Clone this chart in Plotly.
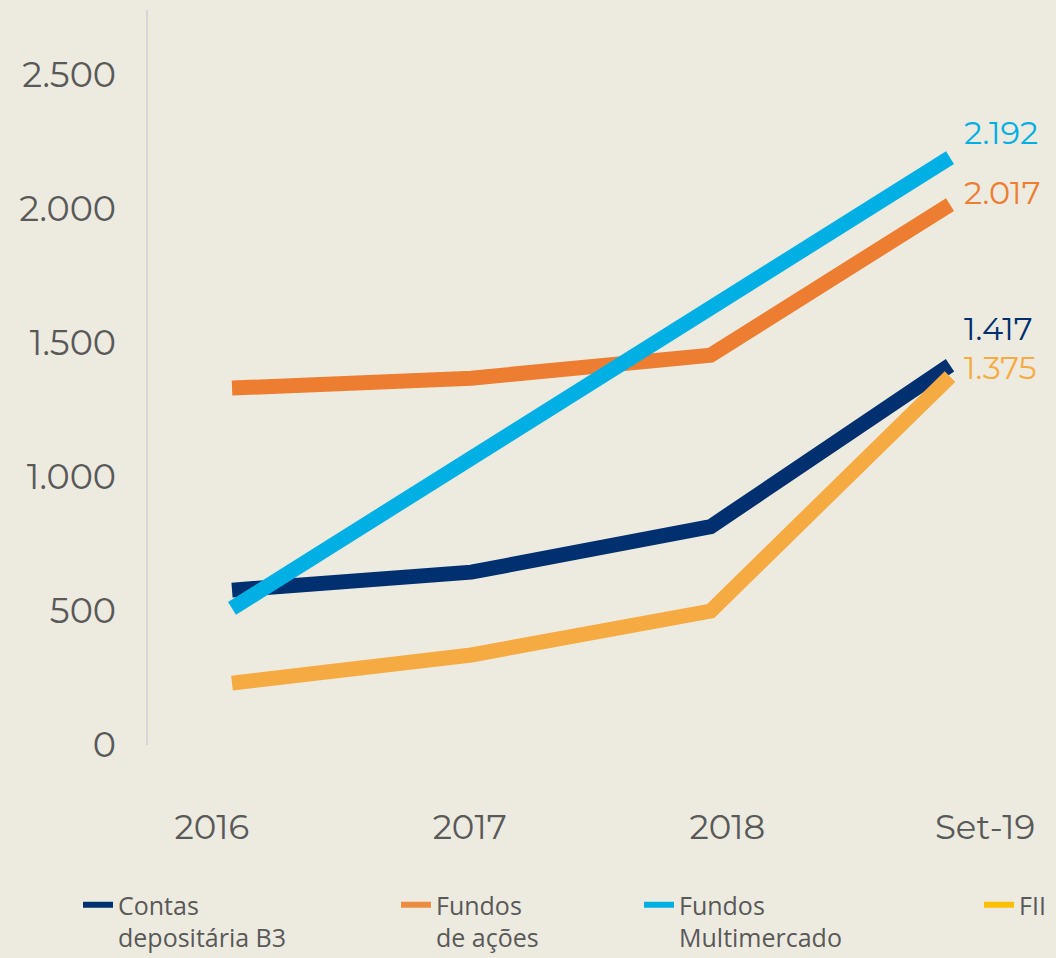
import plotly.graph_objects as go

categories = ["2016", "2017", "2018", "Set-19"]
contas_b3 = [578, 645, 815, 1417]
fundos_acoes = [1332, 1369, 1455, 2017]
fundos_multimercado = [510, 1070, 1640, 2192]
fii = [231, 336, 500, 1375]

series_names = ["Contas<br>depositária B3", "Fundos<br>de ações", "Fundos<br>Multimercado", "FII"]
series_values = [contas_b3, fundos_acoes, fundos_multimercado, fii]
line_colors = ["#00306f", "#ed7d31", "#00b0e4", "#f6ab42"]
legend_colors = ["#00306f", "#ec8c40", "#00b0e4", "#fbbf00"]
label_dy = [37, 12, 25, 9]

y_ticks = [0, 500, 1000, 1500, 2000, 2500]

BG = "#edebe0"
GRAY = "#595959"
NUM_FONT = "Montserrat, Open Sans, sans-serif"
LEG_FONT = "Open Sans, Noto Sans, sans-serif"

def fmt(v):
    return f"{v:,}".replace(",", ".")

fig = go.Figure()
xs = list(range(len(categories)))

legend_ids = ["legend", "legend2", "legend3", "legend4"]
for name, vals, col in zip(series_names, series_values, line_colors):
    fig.add_trace(go.Scatter(x=xs, y=vals, mode="lines", name=name,
                             line=dict(color=col, width=15),
                             showlegend=False, hoverinfo="skip"))

# axis carrying the category labels (positioned as in the reference)
fig.add_trace(go.Scatter(x=xs, y=contas_b3, xaxis="x2", yaxis="y", mode="lines",
                         line=dict(width=0, color="rgba(0,0,0,0)"), opacity=0,
                         showlegend=False, hoverinfo="skip"))

for vals, col, dy in zip(series_values, line_colors, label_dy):
    fig.add_annotation(x=xs[-1], y=vals[-1], xref="x", yref="y",
                       text=fmt(vals[-1]), showarrow=False,
                       xanchor="left", yanchor="middle", xshift=12, yshift=dy,
                       font=dict(family=NUM_FONT, size=32, color=col))

fig.update_layout(
    width=1056, height=958,
    paper_bgcolor=BG, plot_bgcolor=BG,
    margin=dict(l=148, r=16, t=10, b=213, autoexpand=False),
    separators=",.",
    xaxis=dict(range=[-0.351, 3.376], showticklabels=False, showgrid=False,
               zeroline=False, showline=False, ticks=""),
    xaxis2=dict(range=[-0.248, 3.213], overlaying="x", anchor="y", side="bottom",
                tickvals=xs, ticktext=categories, showgrid=False, zeroline=False,
                showline=False, ticks="outside", ticklen=52, tickcolor="rgba(0,0,0,0)",
                tickangle=0,
                tickfont=dict(family=NUM_FONT, size=34, color=GRAY)),
    yaxis=dict(range=[0, 2743], tickvals=y_ticks, ticktext=[fmt(v) for v in y_ticks],
               showgrid=False, zeroline=False, showline=True, linecolor="#d6d6d6",
               linewidth=2, ticks="outside", ticklen=23, tickcolor="rgba(0,0,0,0)",
               tickfont=dict(family=NUM_FONT, size=35, color=GRAY)),
)

# legend: one small horizontal legend per series, placed like the reference
leg_x_px = [78, 396, 639, 979]
for name, col, lid, px in zip(series_names, legend_colors, legend_ids, leg_x_px):
    fig.add_trace(go.Scatter(x=[xs[0]], y=[None], mode="lines", name=name,
                             line=dict(color=col, width=6),
                             legend=lid, showlegend=True, hoverinfo="skip"))
    fig.update_layout({lid: dict(x=px / 1056, y=1 - 882 / 958, xref="container",
                                 yref="container", xanchor="left", yanchor="top",
                                 bgcolor="rgba(0,0,0,0)", valign="top",
                                 font=dict(family=LEG_FONT, size=25, color=GRAY),
                                 itemwidth=30)})
fig.update_layout(showlegend=True)

fig.write_html("out.html", config={"displayModeBar": False},
               post_script="document.body.style.margin='0';document.body.style.background='#edebe0';")
